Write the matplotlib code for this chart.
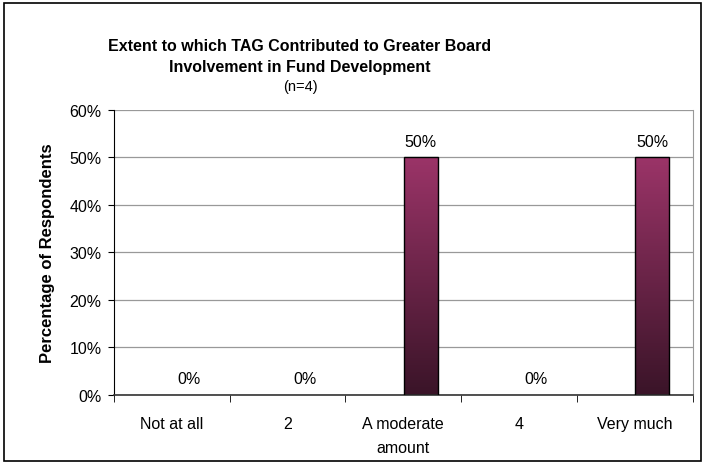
import matplotlib
matplotlib.use("Agg")
import matplotlib.pyplot as plt
import numpy as np
from matplotlib.colors import LinearSegmentedColormap
from matplotlib.patches import Rectangle

plt.rcParams['font.family'] = ['Liberation Sans', 'DejaVu Sans']

categories = ["Not at all", "2", "A moderate\namount", "4", "Very much"]
values = [0.0, 0.0, 0.5, 0.0, 0.5]
value_labels = ["0%", "0%", "50%", "0%", "50%"]
yticks = [0.0, 0.1, 0.2, 0.3, 0.4, 0.5, 0.6]
ytick_labels = ["0%", "10%", "20%", "30%", "40%", "50%", "60%"]

fig = plt.figure(figsize=(7.05, 4.64), dpi=100)
ax = fig.add_axes([0.1617, 0.1466, 0.8209, 0.6142])

x = np.arange(len(categories))
offset = 0.15
width = 0.29
cmap = LinearSegmentedColormap.from_list("g", ["#3a1428", "#9b3468"])
grad = np.linspace(0, 1, 256).reshape(-1, 1)

fs = 11.5

for xi, v, lab in zip(x, values, value_labels):
    bx = xi + offset
    if v > 0:
        im = ax.imshow(grad, cmap=cmap, origin="lower", aspect="auto",
                       extent=[bx - width / 2, bx + width / 2, 0, v], zorder=2)
        rect = Rectangle((bx - width / 2, 0), width, v, facecolor="none",
                         edgecolor="black", linewidth=1.0, zorder=3)
        ax.add_patch(rect)
        im.set_clip_path(rect)
    ax.text(bx, v + 0.018, lab, ha="center", va="bottom", fontsize=fs, color="black")

ax.set_xlim(-0.5, len(categories) - 0.5)
ax.set_ylim(0, 0.6)
ax.set_aspect("auto")

ax.set_yticks(yticks)
ax.set_yticklabels(ytick_labels, fontsize=fs)
ax.yaxis.grid(True, color="#999999", linewidth=0.9)
ax.set_axisbelow(True)

ax.set_xticks(x)
ax.set_xticklabels(categories, fontsize=fs, linespacing=1.75)
ax.set_xticks(np.arange(len(categories) + 1) - 0.5, minor=True)
ax.tick_params(axis="x", which="major", length=0, pad=15)
ax.tick_params(axis="x", which="minor", length=5, direction="out", color="black")
ax.tick_params(axis="y", length=4, direction="out", color="black", pad=5)

ax.spines["top"].set_visible(False)
ax.spines["right"].set_color("#999999")
ax.spines["left"].set_color("black")
ax.spines["bottom"].set_color("#333333")
ax.spines["bottom"].set_linewidth(1.2)

ax.set_ylabel("Percentage of Respondents", fontsize=12, fontweight="bold", labelpad=10)

fig.text(0.4255, 0.878, "Extent to which TAG Contributed to Greater Board\nInvolvement in Fund Development",
         ha="center", va="center", fontsize=11.5, fontweight="bold", linespacing=1.5)
fig.text(0.4255, 0.813, "(n=4)", ha="center", va="center", fontsize=10.5)

fig.patches.append(Rectangle((0.006, 0.004), 0.988, 0.988, transform=fig.transFigure,
                             fill=False, edgecolor="black", linewidth=1.2))

fig.savefig("out.png", dpi=100, facecolor="white")
